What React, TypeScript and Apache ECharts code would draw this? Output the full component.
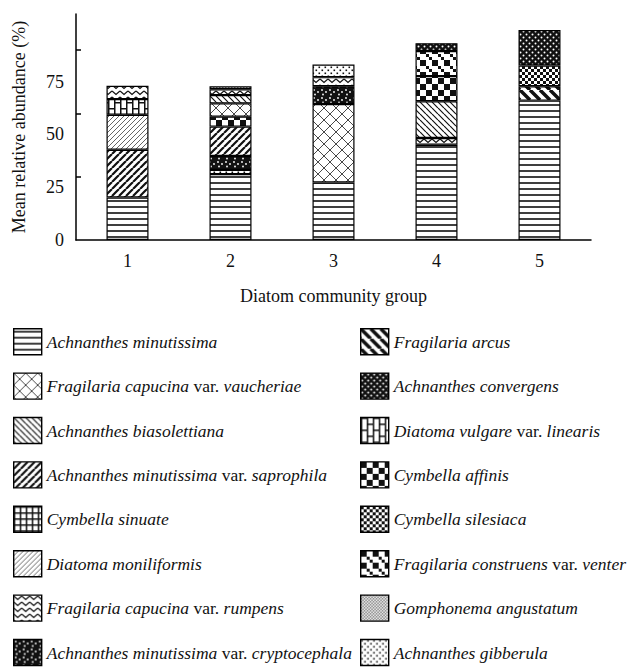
import React, { useEffect, useRef } from 'react';
import * as echarts from 'echarts';

const categories = ['1', '2', '3', '4', '5'];

const species = [
  'Achnanthes minutissima',
  'Fragilaria capucina var. vaucheriae',
  'Achnanthes biasolettiana',
  'Achnanthes minutissima var. saprophila',
  'Cymbella sinuate',
  'Diatoma moniliformis',
  'Fragilaria capucina var. rumpens',
  'Achnanthes minutissima var. cryptocephala',
  'Fragilaria arcus',
  'Achnanthes convergens',
  'Diatoma vulgare var. linearis',
  'Cymbella affinis',
  'Cymbella silesiaca',
  'Fragilaria construens var. venter',
  'Gomphonema angustatum',
  'Achnanthes gibberula',
];
const leftLegend = species.slice(0, 8);
const rightLegend = species.slice(8);

// stacked segments bottom to top: [species index, mean relative abundance %]
const group1Stack = [[0, 20.1], [3, 22.6], [5, 16.6], [10, 7.4], [6, 6.3]];
const group2Stack = [[0, 31.2], [15, 2.0], [7, 6.6], [3, 13.9], [11, 4.7], [1, 6.3], [2, 3.9], [6, 2.8], [14, 1.4]];
const group3Stack = [[0, 27.2], [1, 37.2], [7, 8.4], [6, 4.3], [15, 6.0]];
const group4Stack = [[0, 45.1], [6, 3.2], [2, 17.4], [11, 11.9], [13, 11.9], [9, 3.7]];
const group5Stack = [[0, 66.0], [8, 6.8], [12, 9.8], [9, 16.8]];
const groupStacks = [group1Stack, group2Stack, group3Stack, group4Stack, group5Stack];

const yLabelValues = [0, 25, 50, 75];
const yTickValues = [30, 60, 90];

const FONT = 'Liberation Serif';
const INK = '#111';
const LEGEND_FS = 17.5;

function makePattern(w: number, h: number, draw: (ctx: CanvasRenderingContext2D) => void) {
  const c = document.createElement('canvas');
  c.width = w;
  c.height = h;
  const ctx = c.getContext('2d') as CanvasRenderingContext2D;
  ctx.fillStyle = '#fff';
  ctx.fillRect(0, 0, w, h);
  draw(ctx);
  return { image: c, repeat: 'repeat', imageWidth: w, imageHeight: h };
}

function diag(ctx: CanvasRenderingContext2D, s: number, down: boolean, width: number, color: string) {
  ctx.strokeStyle = color;
  ctx.lineWidth = width;
  ctx.beginPath();
  for (const o of [-s, 0, s]) {
    if (down) {
      ctx.moveTo(o, 0);
      ctx.lineTo(o + s, s);
    } else {
      ctx.moveTo(o, s);
      ctx.lineTo(o + s, 0);
    }
  }
  ctx.stroke();
}

function dot(ctx: CanvasRenderingContext2D, x: number, y: number, r: number, color: string) {
  ctx.fillStyle = color;
  ctx.beginPath();
  ctx.arc(x, y, r, 0, Math.PI * 2);
  ctx.fill();
}

function buildPatterns() {
  return [
    // Achnanthes minutissima: horizontal lines
    makePattern(6, 6, (ctx) => { ctx.fillStyle = INK; ctx.fillRect(0, 2.2, 6, 1.6); }),
    // F. capucina var. vaucheriae: diamond crosshatch
    makePattern(12, 12, (ctx) => { diag(ctx, 12, true, 0.9, '#333'); diag(ctx, 12, false, 0.9, '#333'); }),
    // A. biasolettiana: thin backslash
    makePattern(6, 6, (ctx) => diag(ctx, 6, true, 1.2, INK)),
    // A. minutissima var. saprophila: thick slash
    makePattern(7, 7, (ctx) => diag(ctx, 7, false, 2.2, INK)),
    // Cymbella sinuate: grid
    makePattern(6, 6, (ctx) => { ctx.fillStyle = INK; ctx.fillRect(0, 0, 6, 1.5); ctx.fillRect(0, 0, 1.5, 6); }),
    // Diatoma moniliformis: fine grey slash
    makePattern(5, 5, (ctx) => diag(ctx, 5, false, 0.9, '#555')),
    // F. capucina var. rumpens: zigzag
    makePattern(8, 6, (ctx) => {
      ctx.strokeStyle = INK; ctx.lineWidth = 1.3; ctx.beginPath();
      ctx.moveTo(0, 1); ctx.lineTo(4, 4.5); ctx.lineTo(8, 1); ctx.stroke();
    }),
    // A. minutissima var. cryptocephala: black with scattered white dots
    makePattern(8, 8, (ctx) => {
      ctx.fillStyle = INK; ctx.fillRect(0, 0, 8, 8);
      dot(ctx, 2, 2, 0.9, '#fff'); dot(ctx, 6, 4, 0.9, '#fff'); dot(ctx, 3, 6.5, 0.9, '#fff');
    }),
    // Fragilaria arcus: thick backslash
    makePattern(10, 10, (ctx) => diag(ctx, 10, true, 3.5, INK)),
    // Achnanthes convergens: black with regular white dots
    makePattern(6, 6, (ctx) => {
      ctx.fillStyle = INK; ctx.fillRect(0, 0, 6, 6);
      dot(ctx, 1.5, 1.5, 1.0, '#fff'); dot(ctx, 4.5, 4.5, 1.0, '#fff');
    }),
    // Diatoma vulgare var. linearis: vertical bricks
    makePattern(12, 12, (ctx) => {
      ctx.fillStyle = INK;
      ctx.fillRect(0, 0, 1.5, 12); ctx.fillRect(6, 0, 1.5, 12);
      ctx.fillRect(0, 0, 6, 1.5); ctx.fillRect(6, 6, 6, 1.5);
    }),
    // Cymbella affinis: large checkerboard
    makePattern(12, 12, (ctx) => { ctx.fillStyle = INK; ctx.fillRect(0, 0, 6, 6); ctx.fillRect(6, 6, 6, 6); }),
    // Cymbella silesiaca: small checkerboard
    makePattern(6, 6, (ctx) => { ctx.fillStyle = INK; ctx.fillRect(0, 0, 3, 3); ctx.fillRect(3, 3, 3, 3); }),
    // Fragilaria construens var. venter: checker with small checker
    makePattern(12, 12, (ctx) => {
      ctx.fillStyle = INK; ctx.fillRect(0, 0, 6, 6);
      ctx.fillRect(6, 6, 3, 3); ctx.fillRect(9, 9, 3, 3);
    }),
    // Gomphonema angustatum: fine grey dots
    makePattern(3, 3, (ctx) => { ctx.fillStyle = '#777'; ctx.fillRect(0, 0, 1.5, 1.5); ctx.fillRect(1.5, 1.5, 1.5, 1.5); }),
    // Achnanthes gibberula: sparse dots
    makePattern(6, 6, (ctx) => { ctx.fillStyle = INK; ctx.fillRect(0.5, 0.5, 1.6, 1.6); ctx.fillRect(3.5, 3.5, 1.6, 1.6); }),
  ];
}

const legendFormatter = (name: string) => {
  const parts = name.split(' var. ');
  if (parts.length === 2) return `{i|${parts[0]}}{n| var. }{i|${parts[1]}}`;
  return `{i|${name}}`;
};

export default function App() {
  const ref = useRef<HTMLDivElement>(null);

  useEffect(() => {
    if (!ref.current) return;
    const chart = echarts.init(ref.current, undefined, { renderer: 'svg' });
    const patterns = buildPatterns();
    const maxSlots = Math.max(...groupStacks.map((g) => g.length));
    const border = { borderColor: '#000', borderWidth: 1.2 };

    const slotSeries: any[] = [];
    for (let k = 0; k < maxSlots; k++) {
      slotSeries.push({
        type: 'bar',
        name: 'layer' + (k + 1),
        stack: 'total',
        barWidth: 42,
        itemStyle: { ...border },
        emphasis: { disabled: true },
        data: groupStacks.map((g) =>
          g[k] ? { value: g[k][1], itemStyle: { color: patterns[g[k][0]], ...border } } : '-'
        ),
      });
    }
    const legendSeries = species.map((sp, i) => ({
      type: 'bar',
      name: sp,
      stack: 'total',
      barWidth: 42,
      itemStyle: { color: patterns[i], ...border },
      data: [],
    }));

    const legendCommon = {
      orient: 'vertical',
      top: 328,
      height: 400,
      padding: 0,
      itemWidth: 28,
      itemHeight: 26,
      itemGap: 17,
      icon: 'rect',
      selectedMode: false,
      itemStyle: { borderColor: '#000', borderWidth: 1.4 },
      formatter: legendFormatter,
      textStyle: {
        fontFamily: FONT,
        fontSize: LEGEND_FS,
        color: INK,
        rich: {
          i: { fontFamily: FONT, fontSize: LEGEND_FS, fontStyle: 'italic', color: INK },
          n: { fontFamily: FONT, fontSize: LEGEND_FS, fontStyle: 'normal', color: INK },
        },
      },
    };

    chart.setOption({
      animation: false,
      backgroundColor: '#fff',
      grid: { left: 76, right: 41, top: 14, bottom: 430, containLabel: false },
      xAxis: {
        type: 'category',
        data: categories,
        axisLine: { lineStyle: { color: '#000', width: 1.5 } },
        axisTick: { inside: true, length: 5, lineStyle: { color: '#000', width: 1.5 } },
        axisLabel: { fontFamily: FONT, fontSize: 18, color: INK, margin: 12 },
        name: 'Diatom community group',
        nameLocation: 'middle',
        nameGap: 47,
        nameTextStyle: { fontFamily: FONT, fontSize: 18, color: INK },
      },
      yAxis: {
        type: 'value',
        min: 0,
        max: 107,
        splitLine: { show: false },
        axisLine: { show: true, lineStyle: { color: '#000', width: 1.5 } },
        axisTick: { show: true, inside: true, length: 5, customValues: yTickValues, lineStyle: { color: '#000', width: 1.5 } },
        axisLabel: { customValues: yLabelValues, fontFamily: FONT, fontSize: 18, color: INK, margin: 12 },
        name: 'Mean relative abundance (%)',
        nameLocation: 'middle',
        nameGap: 48,
        nameTextStyle: { fontFamily: FONT, fontSize: 18, color: INK },
      },
      legend: [
        { ...legendCommon, left: 13, data: leftLegend },
        { ...legendCommon, left: 360, data: rightLegend },
      ],
      series: [...slotSeries, ...legendSeries],
    });

    return () => chart.dispose();
  }, []);

  return (
    <div
      ref={ref}
      style={{ position: 'fixed', left: 0, top: 0, width: 632, height: 670, background: '#fff' }}
    />
  );
}
